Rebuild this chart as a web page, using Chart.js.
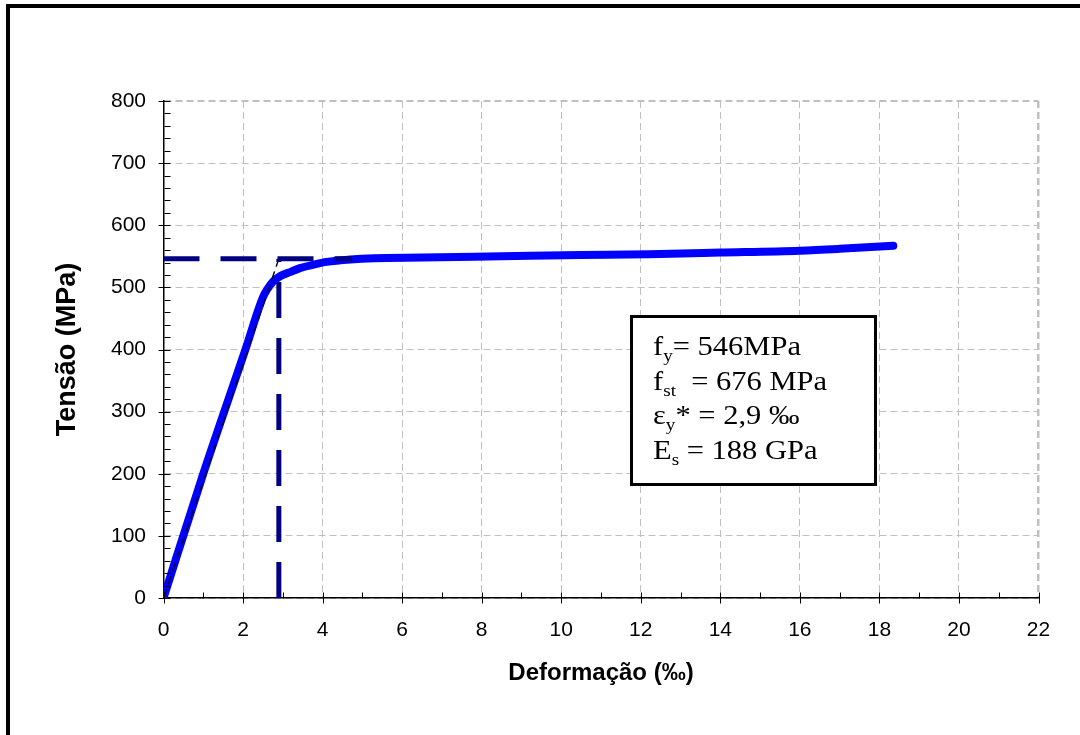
<!DOCTYPE html>
<html>
<head>
<meta charset="utf-8">
<script src="https://cdn.jsdelivr.net/npm/chart.js@4.4.1/dist/chart.umd.min.js"></script>
<style>
    html, body { margin: 0; padding: 0; background: #fff; overflow: hidden; }
    #wrap { position: relative; width: 1080px; height: 735px; overflow: hidden; }
    #frame { position: absolute; left: 6px; top: 4px; width: 1100px; height: 760px;
             border: 4px solid #000; pointer-events: none; }
    #box { position: absolute; left: 630px; top: 315px; width: 247px; height: 171px;
           box-sizing: border-box; border: 3px solid #000; background: #fff;
           padding: 11px 0 0 20px; font-family: "Liberation Serif", "Times New Roman", serif;
           font-size: 27px; line-height: 34.7px; color: #000; white-space: pre; }
    #box div { transform: scaleX(1.13); transform-origin: left center; }
    #box sub { font-size: 17px; line-height: 0; vertical-align: -6px; }
</style>
</head>
<body>
<div id="wrap">
    <canvas id="chart" width="1080" height="735"></canvas>
    <div id="box"><div>f<sub>y</sub>= 546MPa</div><div>f<sub>st</sub>  = 676 MPa</div><div>ε<sub>y</sub>* = 2,9 ‰</div><div>E<sub>s</sub> = 188 GPa</div></div>
    <div id="frame"></div>
</div>
<script>
// Stress-strain curve
const strain = [0, 1.0, 2.06, 2.5, 2.62, 2.75, 2.93, 3.2, 3.43, 3.8, 4.1, 4.7, 5.3, 6.5, 8.5, 10.5, 12.2, 14.0, 16.0, 17.0, 18.35];
const stress = [0, 200, 400, 484, 498, 509, 518, 525, 531, 537, 541, 545, 547, 548, 550, 552, 553.5, 556, 559, 562, 567];

// Yield point reference lines
const yieldStress = 546;
const yieldStrain = 2.9;
const yieldLineStrain = [0, 4.75];
const elasticStrain = [0, 2.9];
const elasticStress = [0, 546];

// Axis ranges
const xMax = 22, xStep = 2, xMinorStep = 1;
const yMax = 800, yStep = 100, yMinorStep = 20;

function toPoints(xs, ys) {
    return xs.map((v, i) => ({ x: v, y: ys[i] }));
}

// Excel-like tick marks: majors cross the axis, minors point inwards
const tickMarks = {
    id: 'tickMarks',
    afterDraw(chart) {
        const { ctx, scales: { x, y } } = chart;
        const ax = Math.round(x.getPixelForValue(0)) + 0.5;
        const ay = Math.round(y.getPixelForValue(0)) + 0.5;
        ctx.save();
        ctx.strokeStyle = '#000';
        ctx.lineWidth = 1;
        ctx.beginPath();
        for (let v = 0; v <= yMax; v += yMinorStep) {
            const py = Math.round(y.getPixelForValue(v)) + 0.5;
            const major = v % yStep === 0;
            ctx.moveTo(major ? ax - 6 : ax, py);
            ctx.lineTo(ax + 6, py);
        }
        for (let v = 0; v <= xMax; v += xMinorStep) {
            const px = Math.round(x.getPixelForValue(v)) + 0.5;
            const major = v % xStep === 0;
            ctx.moveTo(px, major ? ay + 5 : ay);
            ctx.lineTo(px, ay - 6);
        }
        ctx.stroke();
        ctx.restore();
    }
};

const ctx = document.getElementById('chart').getContext('2d');
new Chart(ctx, {
    type: 'line',
    data: {
        datasets: [
            {
                // horizontal yield line
                data: toPoints(yieldLineStrain, [yieldStress, yieldStress]),
                borderColor: '#000080',
                borderWidth: 5,
                borderDash: [36, 21],
                pointRadius: 0
            },
            {
                // vertical yield strain line
                data: toPoints([yieldStrain, yieldStrain], [0, yieldStress]),
                borderColor: '#000080',
                borderWidth: 5,
                borderDash: [36, 20],
                pointRadius: 0
            },
            {
                // elastic modulus line
                data: toPoints(elasticStrain, elasticStress),
                borderColor: '#000033',
                borderWidth: 1.5,
                borderDash: [9, 5],
                pointRadius: 0
            },
            {
                data: toPoints(strain, stress),
                borderColor: '#0000ff',
                borderWidth: 8,
                borderCapStyle: 'round',
                borderJoinStyle: 'round',
                cubicInterpolationMode: 'monotone',
                pointRadius: 0
            }
        ]
    },
    options: {
        responsive: false,
        animation: false,
        events: [],
        layout: { padding: { left: 13.5, right: 41.5, top: 101, bottom: 27 } },
        plugins: { legend: { display: false }, tooltip: { enabled: false } },
        scales: {
            x: {
                type: 'linear',
                min: 0,
                max: xMax,
                afterFit: s => { s.height = 110; },
                ticks: {
                    stepSize: xStep,
                    padding: 20,
                    color: '#000',
                    font: { family: 'Liberation Sans', size: 21 }
                },
                grid: {
                    drawTicks: false,
                    color: '#c0c0c0',
                    lineWidth: c => (c.tick && c.tick.value === xMax ? 2.5 : 1)
                },
                border: { display: true, color: '#000', width: 1.5, dash: [7, 4] },
                title: {
                    display: true,
                    text: 'Deformação (‰)',
                    color: '#000',
                    font: { family: 'Liberation Sans', size: 24, weight: 'bold' },
                    padding: { top: 0, bottom: 20 }
                }
            },
            y: {
                min: 0,
                max: yMax,
                afterFit: s => { s.width = 150; },
                ticks: {
                    stepSize: yStep,
                    padding: 17.5,
                    color: '#000',
                    font: { family: 'Liberation Sans', size: 21 }
                },
                grid: {
                    drawTicks: false,
                    color: '#c0c0c0',
                    lineWidth: c => (c.tick && c.tick.value === yMax ? 2 : 1)
                },
                border: { display: true, color: '#000', width: 1.5, dash: [7, 4] },
                title: {
                    display: true,
                    text: 'Tensão (MPa)',
                    color: '#000',
                    font: { family: 'Liberation Sans', size: 27, weight: 'bold' },
                    padding: { top: 38, bottom: 0 }
                }
            }
        }
    },
    plugins: [tickMarks]
});
</script>
</body>
</html>
